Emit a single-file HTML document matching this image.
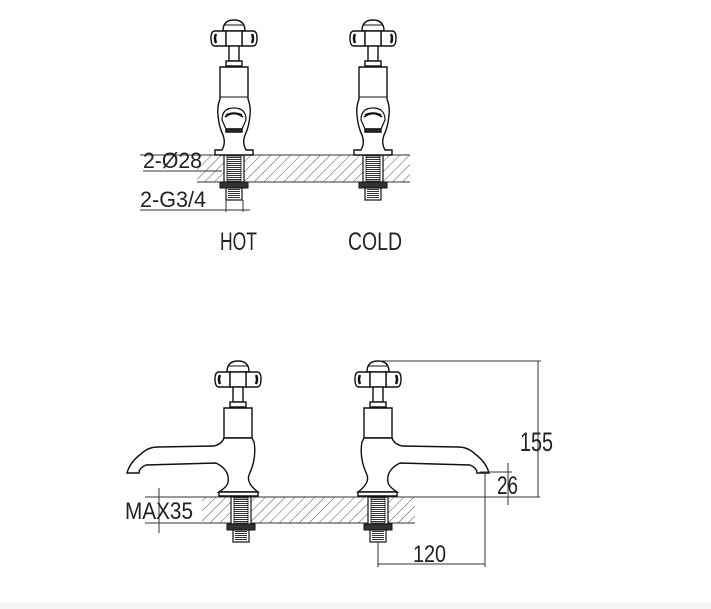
<!DOCTYPE html>
<html><head><meta charset="utf-8"><style>
html,body{margin:0;padding:0;background:#fff;}
svg{display:block;}
text{font-family:"Liberation Sans",sans-serif;fill:#222;}
</style></head><body>
<svg width="711" height="609" viewBox="0 0 711 609" xmlns="http://www.w3.org/2000/svg">
<defs>
<pattern id="h" patternUnits="userSpaceOnUse" width="7" height="7" patternTransform="rotate(45)">
<line x1="0" y1="0" x2="0" y2="7" stroke="#444" stroke-width="0.9"/>
</pattern>
<pattern id="th" patternUnits="userSpaceOnUse" width="4" height="2">
<line x1="0" y1="0.5" x2="4" y2="0.5" stroke="#333" stroke-width="1"/>
</pattern>
<g id="thr">
<rect x="-10" y="0" width="20" height="27" fill="#fff" stroke="#111" stroke-width="1.2"/>
<rect x="-7" y="1" width="14" height="25" fill="url(#th)" stroke="#111" stroke-width="0.8"/>
<rect x="-14" y="27" width="28" height="6" fill="#333" stroke="#111"/>
<rect x="-8" y="33" width="16" height="12" fill="#fff" stroke="#111" stroke-width="1.2"/>
<rect x="-6" y="34" width="12" height="10" fill="url(#th)"/>
</g>
<g id="head" fill="#fff" stroke="#111" stroke-width="1.4">
<path d="M-11,12 Q-11,1 0,1 Q11,1 11,12 Z"/>
<line x1="-9" y1="6" x2="9" y2="6" stroke-width="1"/>
<path d="M-8,12 L-19,12 Q-23,12 -23,19 Q-23,27 -19,27 L-8,27 Z"/>
<path d="M8,12 L19,12 Q23,12 23,19 Q23,27 19,27 L8,27 Z"/>
<rect x="-8" y="12" width="16" height="15"/>
<path d="M-18,15 Q-20,19 -18,24 M18,15 Q20,19 18,24" stroke-width="2.5" fill="none"/>
<rect x="-5" y="27" width="10" height="15"/>
<rect x="-8" y="42" width="16" height="5"/>
</g>
</defs>

<!-- ===== TOP VIEW ===== -->
<rect x="197" y="155" width="213" height="27" fill="url(#h)"/>
<line x1="140" y1="155" x2="410" y2="155" stroke="#333" stroke-width="1"/>
<line x1="197" y1="182" x2="410" y2="182" stroke="#333" stroke-width="1"/>

<g transform="translate(234,155)"><use href="#thr"/></g>
<g transform="translate(373,155)"><use href="#thr"/></g>

<g id="tv" transform="translate(234,19)" fill="#fff" stroke="#111" stroke-width="1.4">
<use href="#head"/>
<path d="M-14,48 L14,48 L14,80 Q17,88 16,96 Q15,108 11,116 Q8,124 12,131 L19,131 L19,136 L-19,136 L-19,131 L-12,131 Q-8,124 -11,116 Q-15,108 -16,96 Q-17,88 -14,80 Z"/>
<line x1="-14" y1="78" x2="14" y2="78" stroke-width="1"/>
<path d="M-12,101 Q-12,89 0,89 Q12,89 12,101 L8,110 L-8,110 Z" stroke-width="1.2"/>
<path d="M-9,98 Q0,91 9,98 M-8,96 Q0,92 8,96" fill="none" stroke-width="1.6"/>
<path d="M-8,110 L8,110 L8,113 L-8,113 Z" fill="#333"/>
</g>
<g transform="translate(139,0)"><use href="#tv"/></g>

<line x1="226" y1="200" x2="226" y2="212" stroke="#333"/>
<line x1="243" y1="200" x2="243" y2="212" stroke="#333"/>
<text x="143" y="168" font-size="22" textLength="59" lengthAdjust="spacingAndGlyphs">2-Ø28</text>
<line x1="143" y1="171" x2="222" y2="171" stroke="#333"/>
<text x="140" y="207" font-size="22" textLength="66" lengthAdjust="spacingAndGlyphs">2-G3/4</text>
<line x1="140" y1="210" x2="250" y2="210" stroke="#333"/>
<text x="220" y="250" font-size="25" textLength="37" lengthAdjust="spacingAndGlyphs">HOT</text>
<text x="348" y="250" font-size="25" textLength="54" lengthAdjust="spacingAndGlyphs">COLD</text>

<!-- ===== SIDE VIEW ===== -->
<rect x="202" y="497" width="213" height="26" fill="url(#h)"/>
<line x1="145" y1="497" x2="540" y2="497" stroke="#333" stroke-width="1"/>
<line x1="145" y1="523" x2="415" y2="523" stroke="#333" stroke-width="1"/>

<g transform="translate(241,497)"><use href="#thr"/></g>
<g transform="translate(378,497)"><use href="#thr"/></g>

<g id="sv" transform="translate(378,360)" fill="#fff" stroke="#111" stroke-width="1.4">
<use href="#head"/>
<path d="M-14,48 L14,48 L14,78 L-14,78 Z"/>
<line x1="-14" y1="78" x2="14" y2="78" stroke-width="1"/>
<path d="M-14,78 L-16,82 Q-19,98 -11,115 Q-8,123 -20,132 L19,132 Q10,126 10,122 Q8,110 22,103 L92,105 Q99,108 99,113 L111,113 Q108,102 97,94 Q90,87 80,87 L24,86 Q16,84 14,78 Z"/>
<path d="M-20,132 L19,132 L19,136 L-20,136 Z"/>
</g>
<g transform="translate(616,0) scale(-1,1)"><use href="#sv"/></g>

<!-- dimensions -->
<line x1="378" y1="361" x2="541" y2="361" stroke="#333"/>
<line x1="538" y1="361" x2="538" y2="497" stroke="#333"/>
<text x="520" y="451" font-size="27" textLength="33" lengthAdjust="spacingAndGlyphs">155</text>
<line x1="480" y1="472" x2="512" y2="472" stroke="#333"/>
<line x1="508" y1="463" x2="508" y2="505" stroke="#333"/>
<text x="497" y="494" font-size="25" textLength="21" lengthAdjust="spacingAndGlyphs">26</text>
<line x1="485" y1="472" x2="485" y2="567" stroke="#333"/>
<line x1="378" y1="542" x2="378" y2="567" stroke="#333"/>
<line x1="378" y1="564" x2="485" y2="564" stroke="#333"/>
<text x="413" y="562" font-size="24" textLength="33" lengthAdjust="spacingAndGlyphs">120</text>
<line x1="159" y1="488" x2="159" y2="533" stroke="#333"/>
<text x="125" y="519" font-size="24" textLength="68" lengthAdjust="spacingAndGlyphs">MAX35</text>
<rect x="0" y="603" width="711" height="6" fill="#f5f5f5"/>
</svg>
</body></html>
